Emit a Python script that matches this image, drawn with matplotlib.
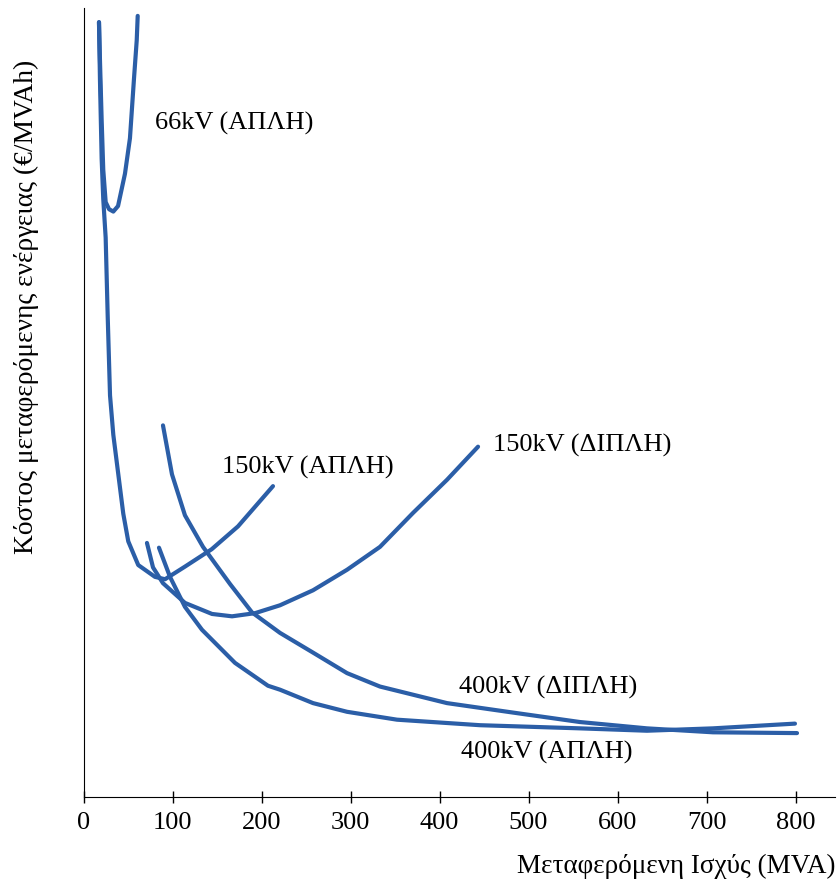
import matplotlib
matplotlib.use("Agg")
import matplotlib.pyplot as plt

plt.rcParams['font.family'] = ['Liberation Serif', 'DejaVu Serif']

# Data (x: transmitted power MVA, y: relative cost, arbitrary units)
x_66 = [17.4, 18.5, 20.4, 22.2, 24.9, 28.7, 33.5, 38.8, 46.6, 52.2, 56.7, 59.8, 60.9]
y_66 = [98.2, 93.4, 85.8, 79.5, 75.4, 74.5, 74.2, 74.9, 79.0, 83.5, 91.0, 95.9, 99.0]

x_150s = [17.4, 18.5, 20.4, 22.2, 24.9, 27.2, 29.8, 33.5, 39.1, 44.7, 50.3, 61.5, 80.3, 91.6, 114.0, 144.0, 173.6, 212.9]
y_150s = [98.2, 90.9, 80.9, 75.8, 70.9, 60.9, 50.9, 45.9, 40.9, 35.9, 32.4, 29.4, 27.9, 27.6, 29.2, 31.4, 34.3, 39.4]

x_150d = [71.3, 78.1, 89.3, 114.0, 144.4, 166.9, 192.7, 220.8, 257.9, 296.1, 333.1, 370.2, 408.4, 443.3]
y_150d = [32.2, 29.1, 27.1, 24.6, 23.2, 22.9, 23.3, 24.3, 26.2, 28.8, 31.7, 36.0, 40.2, 44.4]

x_400s = [84.8, 97.2, 114.0, 133.1, 170.2, 207.3, 220.8, 257.9, 296.1, 352.2, 445.5, 557.9, 633.1, 707.3, 799.4]
y_400s = [31.6, 27.9, 24.1, 21.2, 17.0, 14.1, 13.6, 11.9, 10.8, 9.8, 9.1, 8.7, 8.4, 8.7, 9.3]

x_400d = [89.3, 99.4, 114.0, 134.3, 164.6, 189.3, 220.8, 257.9, 296.1, 333.1, 408.4, 482.6, 557.9, 633.1, 707.3, 801.7]
y_400d = [47.1, 40.9, 35.7, 31.7, 27.0, 23.4, 20.8, 18.3, 15.7, 14.0, 11.9, 10.7, 9.5, 8.7, 8.2, 8.1]

x_ticks = [0, 100, 200, 300, 400, 500, 600, 700, 800]

labels = ["66kV (ΑΠΛΗ)", "150kV (ΑΠΛΗ)", "150kV (ΔΙΠΛΗ)", "400kV (ΔΙΠΛΗ)", "400kV (ΑΠΛΗ)"]
label_pos = [(80.3, 85.4), (155.4, 41.8), (459.9, 44.6), (421.7, 13.9), (424.0, 5.7)]

color = '#2B5EA7'
W, H = 838, 884
fig = plt.figure(figsize=(W / 100, H / 100), dpi=100)
ax = fig.add_axes([83.5 / W, (H - 797) / H, (835 - 83.5) / W, (797 - 8) / H])

for xs, ys in [(x_66, y_66), (x_150s, y_150s), (x_150d, y_150d), (x_400s, y_400s), (x_400d, y_400d)]:
    ax.plot(xs, ys, color=color, lw=3.0, solid_capstyle='round', solid_joinstyle='round')

for t, (lx, ly) in zip(labels, label_pos):
    ax.text(lx, ly, t, fontsize=19, ha='left', va='center', color='black')

ax.set_xlim(0, (835 - 83.5) / 0.89)
ax.set_ylim(0, 100)
ax.spines['top'].set_visible(False)
ax.spines['right'].set_visible(False)
ax.set_yticks([])
ax.set_xticks(x_ticks)
ax.set_xticklabels([str(v) for v in x_ticks])
ax.tick_params(axis='x', direction='inout', length=8, width=1, labelsize=19, pad=7)

fig.text(835 / W, 1 - 866 / H, "Μεταφερόμενη Ισχύς (MVA)", fontsize=19.5, ha='right', va='center')
fig.text(26 / W, 1 - 307 / H, "Κόστος μεταφερόμενης ενέργειας (€/MVAh)", fontsize=19.8,
         ha='center', va='center', rotation=90)

fig.savefig("out.png", dpi=100)
